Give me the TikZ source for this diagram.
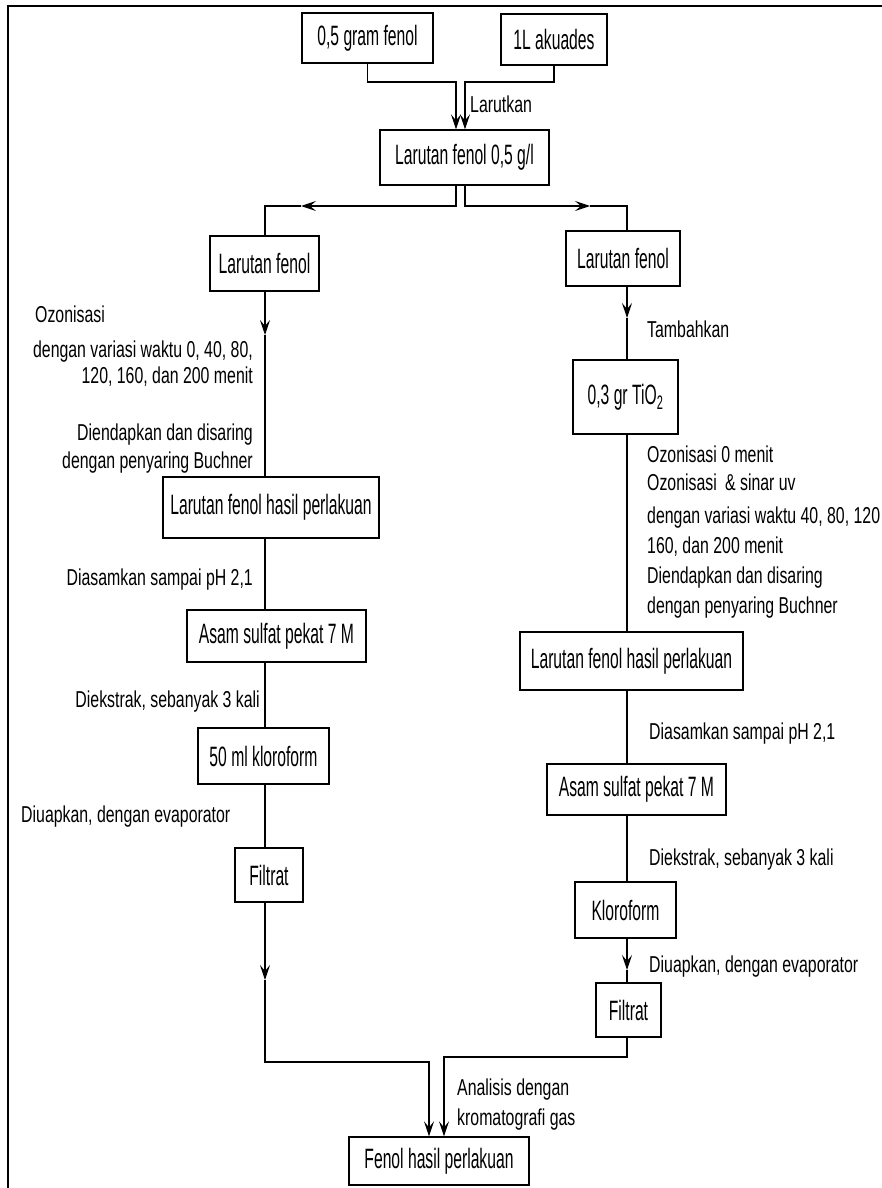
\documentclass[tikz,border=0pt]{standalone}
\usepackage{fontspec}
\setmainfont{Liberation Sans}
\newfontfamily\boxfont[FakeStretch=0.56]{Liberation Sans}
\newfontfamily\labfont[FakeStretch=0.69]{Liberation Sans}
\usetikzlibrary{arrows.meta,calc}
\begin{document}
\begin{tikzpicture}[x=1pt,y=-1pt,
  bx/.style={draw, line width=1.3pt, inner sep=0pt, align=center,
    font=\boxfont\fontsize{28}{32}\selectfont},
  lab/.style={inner sep=0pt, font=\labfont\fontsize{23}{27}\selectfont},
  ln/.style={line width=1.2pt},
  arr/.style={line width=1.2pt, -{Stealth[length=15pt,width=10pt,inset=6pt]}}]
\useasboundingbox (0,0) rectangle (882,1188);
% frame
\draw[line width=2pt] (882,6) -- (8,6) -- (8,1188);

% boxes
\node[bx, minimum width=131pt, minimum height=50pt] (A) at (367.5,38) {0,5 gram fenol};
\node[bx, minimum width=106pt, minimum height=51pt] (B) at (554,39.5) {1L akuades};
\node[bx, minimum width=169pt, minimum height=55pt] (C) at (464.5,157.5) {Larutan fenol 0,5 g/l};
\node[bx, minimum width=109pt, minimum height=55pt] (D) at (264.5,263.5) {Larutan fenol};
\node[bx, minimum width=114pt, minimum height=55pt] (E) at (623,258.5) {Larutan fenol};
\node[bx, minimum width=216pt, minimum height=61pt] (F) at (271,507.5) {Larutan fenol hasil perlakuan};
\node[bx, minimum width=179pt, minimum height=52pt] (G) at (276.5,636) {Asam sulfat pekat 7 M};
\node[bx, minimum width=131pt, minimum height=56pt] (I) at (263.5,756) {50 ml kloroform};
\node[bx, minimum width=68pt, minimum height=54pt] (J) at (269,875) {Filtrat};
\node[bx, minimum width=105pt, minimum height=74pt] (H) at (625.5,397) {0,3 gr TiO\textsubscript{2}};
\node[bx, minimum width=223pt, minimum height=58pt] (K) at (631.5,661) {Larutan fenol hasil perlakuan};
\node[bx, minimum width=179pt, minimum height=51pt] (L) at (636.5,789.5) {Asam sulfat pekat 7 M};
\node[bx, minimum width=101pt, minimum height=56pt] (M) at (625.5,910) {Kloroform};
\node[bx, minimum width=65pt, minimum height=54pt] (O) at (628.5,1010) {Filtrat};
\node[bx, minimum width=180pt, minimum height=48pt] (N) at (439,1161) {Fenol hasil perlakuan};

% column guides
\coordinate (colL) at (265,0);
\coordinate (colR) at (627,0);

% top joins
\coordinate (jA) at (456,82);
\coordinate (jB) at (465,82);
\draw[arr] (A.south) |- (jA) -- (jA |- C.north);
\draw[arr] (B.south) |- (jB) -- (jB |- C.north);

% split
\coordinate (sL) at (456,206);
\coordinate (sR) at (465,206);
\coordinate (aL) at (301,206);
\coordinate (aR) at (590,206);
\draw[arr] (sL |- C.south) -- (sL) -- (aL);
\draw[ln] (aL) -| (colL |- D.north);
\draw[arr] (sR |- C.south) -- (sR) -- (aR);
\draw[ln] (aR) -| (colR |- E.north);

% left column
\coordinate (aD) at (265,335);
\draw[arr] (colL |- D.south) -- (aD);
\draw[ln] (aD) -- (colL |- F.north);
\draw[ln] (colL |- F.south) -- (colL |- G.north);
\draw[ln] (colL |- G.south) -- (colL |- I.north);
\draw[ln] (colL |- I.south) -- (colL |- J.north);
\coordinate (aJ) at (265,980);
\draw[arr] (colL |- J.south) -- (aJ);
\coordinate (jJ) at (429,1062);
\draw[arr] (aJ) |- (jJ) -- (jJ |- N.north);

% right column
\coordinate (aE) at (627,318);
\draw[arr] (colR |- E.south) -- (aE);
\draw[ln] (aE) -- (colR |- H.north);
\draw[ln] (colR |- H.south) -- (colR |- K.north);
\draw[ln] (colR |- K.south) -- (colR |- L.north);
\draw[ln] (colR |- L.south) -- (colR |- M.north);
\coordinate (aM) at (627,970);
\draw[arr] (colR |- M.south) -- (aM);
\draw[ln] (aM) -- (colR |- O.north);
\coordinate (jO) at (444,1057);
\draw[arr] (colR |- O.south) |- (jO) -- (jO |- N.north);

% labels top
\node[lab, anchor=base west] (tLar) at (470,113) {Larutkan};

% labels left
\node[lab, anchor=base west] (tL1) at (35,322) {Ozonisasi};
\node[lab, anchor=base east] (tL2) at (253,357) {dengan variasi waktu 0, 40, 80,};
\node[lab, anchor=base east] (tL3) at (253,383) {120, 160, dan 200 menit};
\node[lab, anchor=base east] (tL4) at (253,440) {Diendapkan dan disaring};
\node[lab, anchor=base east] (tL5) at (253,468) {dengan penyaring Buchner};
\node[lab, anchor=base east] (tL6) at (253,585) {Diasamkan sampai pH 2,1};
\node[lab, anchor=base east] (tL7) at (260,707) {Diekstrak, sebanyak 3 kali};
\node[lab, anchor=base west] (tL8) at (21,822) {Diuapkan, dengan evaporator};

% labels right
\node[lab, anchor=base west] (tR1) at (647,337) {Tambahkan};
\node[lab, anchor=base west] (tR2) at (647,462) {Ozonisasi 0 menit};
\node[lab, anchor=base west] (tR3) at (647,490) {Ozonisasi \,\& sinar uv};
\node[lab, anchor=base west] (tR4) at (647,523) {dengan variasi waktu 40, 80, 120};
\node[lab, anchor=base west] (tR5) at (647,553) {160, dan 200 menit};
\node[lab, anchor=base west] (tR6) at (647,583) {Diendapkan dan disaring};
\node[lab, anchor=base west] (tR7) at (647,613) {dengan penyaring Buchner};
\node[lab, anchor=base west] (tR8) at (649,739) {Diasamkan sampai pH 2,1};
\node[lab, anchor=base west] (tR9) at (649,865) {Diekstrak, sebanyak 3 kali};
\node[lab, anchor=base west] (tR10) at (649,972) {Diuapkan, dengan evaporator};

% labels bottom
\node[lab, anchor=base west] (tB1) at (457,1095) {Analisis dengan};
\node[lab, anchor=base west] (tB2) at (457,1125) {kromatografi gas};
\end{tikzpicture}
\end{document}
